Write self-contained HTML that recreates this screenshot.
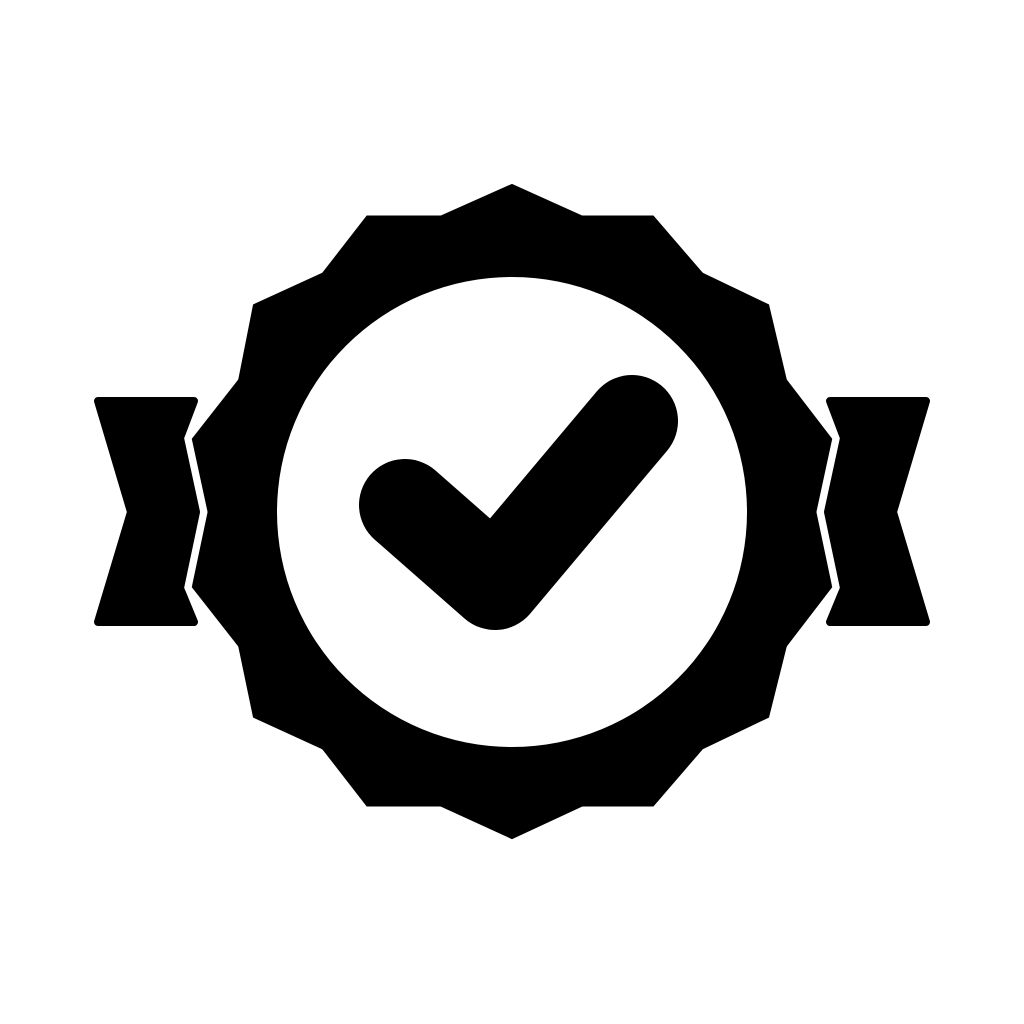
<!DOCTYPE html>
<html><head><style>html,body{margin:0;padding:0;background:#fff}svg{display:block}</style></head>
<body>
<svg width="1024" height="1024" viewBox="0 0 1024 1024">
<g fill="#000" stroke="#000" stroke-width="8" stroke-linejoin="round">
<polygon points="98,401 194,401 180,438 196,512 180,588 194,622 98,622 131,512"/>
<polygon points="926,401 830,401 844,438 828,512 844,588 830,622 926,622 893,512"/>
</g>
<polygon fill="#000" stroke="#fff" stroke-width="7" stroke-linejoin="round"
points="512,180 583,212 655,212 705,270 772,302 790,378 836,438 820,512 836,588 790,648 772,720 705,752 655,810 583,810 512,843 440,810 365,810 320,752 250,720 235,648 188,588 204,512 188,438 235,378 250,302 320,270 365,212 440,212"/>
<circle cx="512" cy="512" r="235" fill="#fff"/>
<polyline points="405,505 495,584 632,421" fill="none" stroke="#000" stroke-width="92" stroke-linecap="round" stroke-linejoin="round"/>
</svg>
</body></html>
